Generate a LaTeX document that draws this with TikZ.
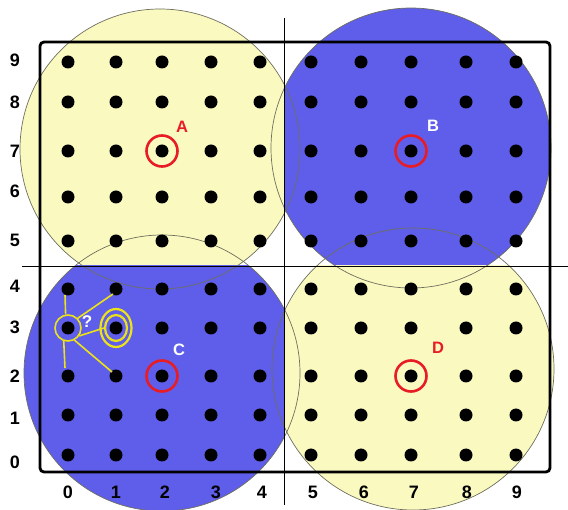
\documentclass[tikz,border=0pt]{standalone}
\usepackage{fontspec}
\setmainfont{Liberation Sans}
\usetikzlibrary{shapes.geometric}
\definecolor{pyel}{RGB}{250,250,192}
\definecolor{pblue}{RGB}{94,94,234}
\definecolor{pred}{RGB}{232,28,36}
\definecolor{pgold}{RGB}{236,226,24}
\definecolor{pedge}{RGB}{110,110,95}
\begin{document}
\begin{tikzpicture}[x=1pt,y=-1pt,
  dot/.style={circle,fill=black,inner sep=0pt,minimum size=13pt},
  redring/.style={circle,draw=pred,line width=2.6pt,inner sep=0pt,minimum size=31pt},
  axlab/.style={font=\fontsize{18}{20}\selectfont\bfseries,inner sep=0pt},
  letter/.style={font=\fontsize{16.5}{19}\selectfont\bfseries,inner sep=0pt},
  outline/.style={draw=pedge,line width=0.7pt},
  gold/.style={draw=pgold,line width=1.6pt}]
\useasboundingbox (0,0) rectangle (568,510);
% fills clipped to quadrants
\begin{scope}\clip (0,0) rectangle (284,266);
  \fill[pyel] (160,149) circle (140);\end{scope}
\begin{scope}\clip (284,0) rectangle (568,266);
  \fill[pblue] (411,148) circle (140);\end{scope}
\begin{scope}\clip (0,266) rectangle (284,510);
  \fill[pblue] (162,373) circle (138);\end{scope}
\begin{scope}\clip (284,266) rectangle (568,510);
  \fill[pyel] (413,369) circle (141);\end{scope}
% outlines
\draw[outline] (160,149) circle (140);
\draw[outline] (411,148) circle (140);
\draw[outline] (162,373) circle (138);
\draw[outline] (413,369) circle (141);
% frame and cross
\draw[line width=2.8pt,rounded corners=4pt] (40,42) rectangle (550,472);
\coordinate (vt) at (284,18); \coordinate (vb) at (284,505);
\coordinate (hl) at (22,266); \coordinate (hr) at (568,266);
\draw[line width=0.8pt] (vt) -- (vb);
\draw[line width=0.8pt] (hl) -- (hr);
% dots
\foreach \i/\x in {0/68,1/116,2/162,3/211,4/260,5/311,6/361,7/411,8/466,9/516}
  \foreach \j/\y in {0/455,1/415,2/376,3/328,4/289,5/241,6/197,7/151,8/102,9/62}
    \node[dot] (d\i\j) at (\x,\y) {};
% axis labels
\foreach \i/\x in {0/68,1/116,2/165,3/216,4/262,5/313,6/364,7/414,8/467,9/517}
  \node[axlab] (bx\i) at (\x,492) {\i};
\foreach \j/\y in {0/462,1/418,2/376,3/327,4/286,5/240,6/191,7/151,8/102,9/60}
  \node[axlab] (ly\j) at (15,\y) {\j};
% red rings
\node[redring] (rA) at (d27) {};
\node[redring] (rB) at (d77) {};
\node[redring] (rC) at (d22) {};
\node[redring] (rD) at (d72) {};
\node[letter,text=pred] (lA) at (182,127) {A};
\node[letter,text=white] (lB) at (433,126) {B};
\node[letter,text=white] (lC) at (179,350) {C};
\node[letter,text=pred] (lD) at (438,348) {D};
% yellow annotation
\node[gold,circle,inner sep=0pt,minimum size=26pt] (q) at (d03) {};
\node[gold,ellipse,inner sep=0pt,minimum width=31pt,minimum height=38pt,line width=2.2pt] (t1) at (d13) {};
\node[gold,ellipse,inner sep=0pt,minimum width=22pt,minimum height=26pt,line width=2.2pt] (t2) at (d13) {};
\coordinate (e1) at (65,295);
\coordinate (e2) at (113,294);
\coordinate (e4) at (65,368);
\coordinate (e5) at (112,372);
\draw[gold] (q.100) -- (e1);
\draw[gold] (q.45) -- (e2);
\draw[gold] (q.-35) -- (t2.west);
\draw[gold] (q.-108) -- (e4);
\draw[gold] (q.-62) -- (e5);
\node[font=\fontsize{17}{19}\selectfont\bfseries,text=white,inner sep=0pt] (qm) at (87,322) {?};
\end{tikzpicture}
\end{document}
